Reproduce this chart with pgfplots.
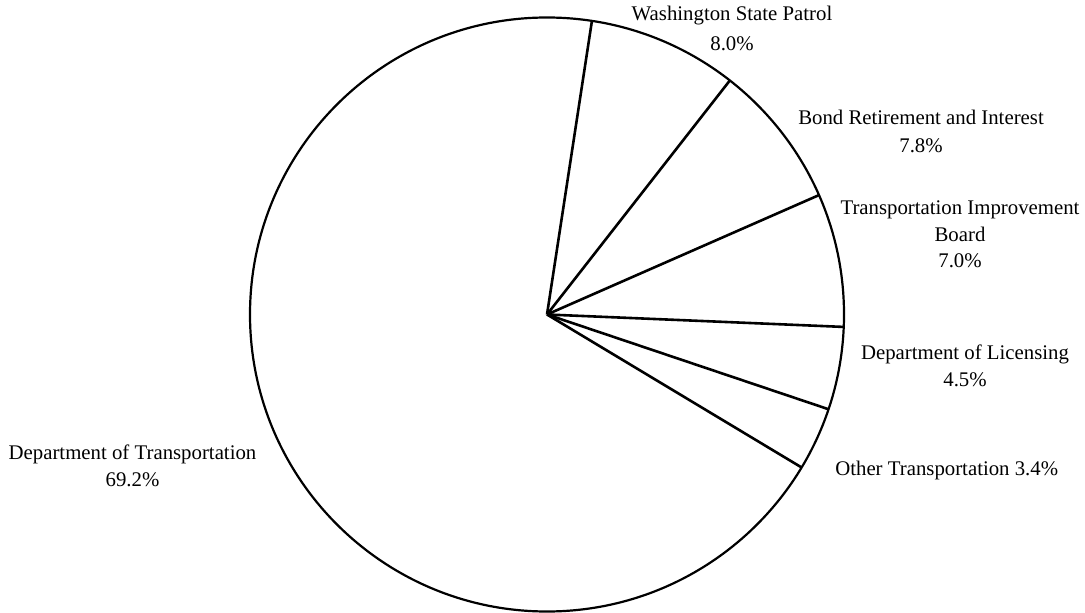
\documentclass[border=0pt]{standalone}
\usepackage{pgfplots}
\pgfplotsset{compat=1.18}
\usepgfplotslibrary{polar}
\usepackage{fontspec}
\setmainfont{Liberation Serif}
\begin{document}
\begin{tikzpicture}[x=0.5pt,y=-0.5pt]
\useasboundingbox (0,0) rectangle (1085,613);
\begin{polaraxis}[
  at={(273.5pt,-157.25pt)}, anchor=center,
  scale only axis, width=297pt, height=297pt,
  xmin=0, xmax=360, ymin=0, ymax=1,
  xtick=\empty, ytick=\empty,
  x axis line style={line width=1.1pt},
  y axis line style={draw=none},
  clip=false,
]
% boundaries between slices (polar angle in degrees, counter-clockwise from east)
\addplot[black, line width=1.3pt, no marks] coordinates {(0,0) (81.3,1)};
\addplot[black, line width=1.3pt, no marks] coordinates {(0,0) (52.0,1)};
\addplot[black, line width=1.3pt, no marks] coordinates {(0,0) (23.7,1)};
\addplot[black, line width=1.3pt, no marks] coordinates {(0,0) (-2.4,1)};
\addplot[black, line width=1.3pt, no marks] coordinates {(0,0) (-18.6,1)};
\addplot[black, line width=1.3pt, no marks] coordinates {(0,0) (-31.0,1)};
\end{polaraxis}
\begin{scope}[every node/.style={font=\fontsize{10.4}{12}\selectfont, anchor=base, inner sep=0pt}]
\node at (732,21) {Washington State Patrol};
\node at (732,51) {8.0\%};
\node at (921,124.3) {Bond Retirement and Interest};
\node at (921,153) {7.8\%};
\node at (960,215) {Transportation Improvement};
\node at (960,241.7) {Board};
\node at (960,267.7) {7.0\%};
\node at (965,360) {Department of Licensing};
\node at (965,386.7) {4.5\%};
\node at (946.7,475.7) {Other Transportation 3.4\%};
\node at (132.5,460) {Department of Transportation};
\node at (132.5,486.7) {69.2\%};
\end{scope}
\end{tikzpicture}
\end{document}
